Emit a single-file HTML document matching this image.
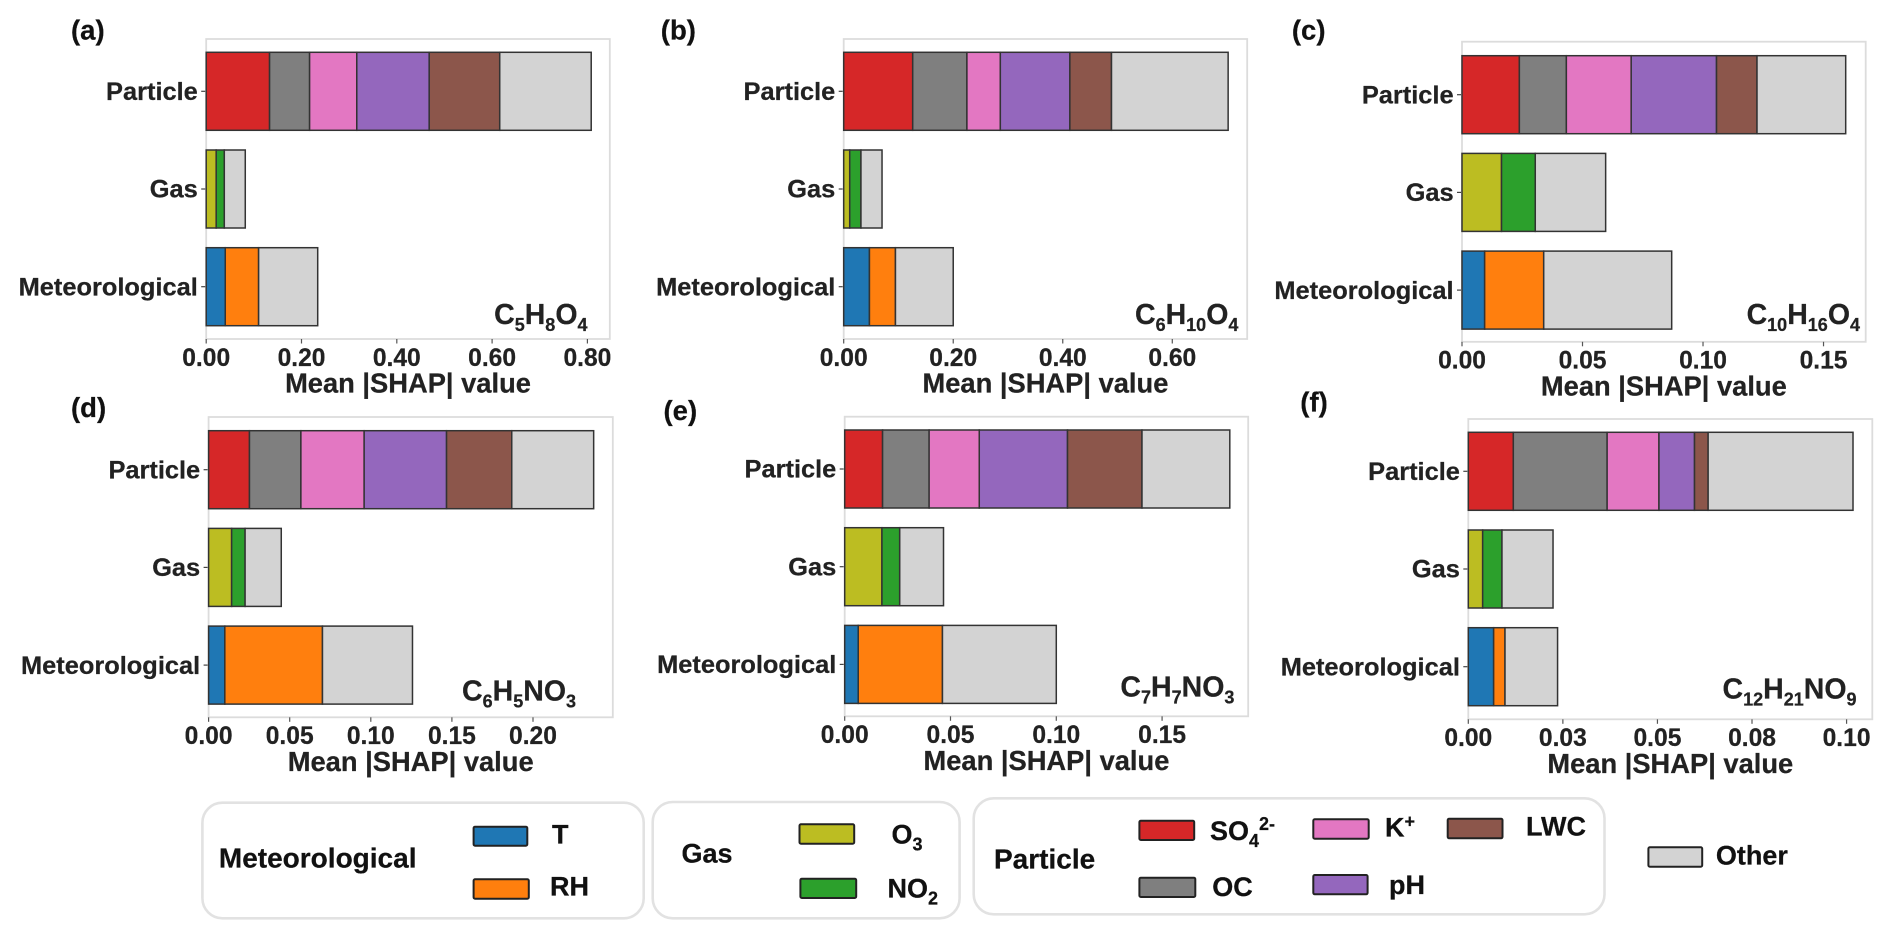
<!DOCTYPE html>
<html lang="en">
<head>
<meta charset="utf-8">
<title>Mean SHAP value by feature group</title>
<style>
html,body{margin:0;padding:0;background:#fff;width:1892px;height:939px;overflow:hidden}
svg{display:block}
text{font-family:"Liberation Sans",Arial,sans-serif;font-weight:bold;fill:#222;stroke:#222;stroke-width:.25}
.legend-text{fill:#111;stroke:#111;font-size:27px}
.box{fill:#fff;stroke:#e2e2e2;stroke-width:2.6}
.swatch{stroke:#222;stroke-width:2}
</style>
</head>
<body>
<svg id="chart" xmlns="http://www.w3.org/2000/svg" width="1892" height="939" viewBox="0 0 1892 939">
  <g id="panels"></g>
  <g>
    <g>
      <rect class="box" x="202.4" y="802.7" width="441.3" height="115.6" rx="20"/>
      <text class="legend-text" x="218.9" y="867.3" font-size="28" style="font-size:28px">Meteorological</text>
      <rect class="swatch" x="473.6" y="826.7" width="53.7" height="19" rx="1.5" fill="#1f77b4"/>
      <text class="legend-text" x="552" y="843.3">T</text>
      <rect class="swatch" x="473.6" y="879.3" width="55.2" height="19.4" rx="1.5" fill="#ff7f0e"/>
      <text class="legend-text" x="550" y="895.3">RH</text>
    </g>
    <g>
      <rect class="box" x="652.7" y="802" width="306.9" height="116.3" rx="20"/>
      <text class="legend-text" x="681.5" y="862.3">Gas</text>
      <rect class="swatch" x="799.5" y="824.3" width="54.7" height="19.4" rx="1.5" fill="#bcbd22"/>
      <text class="legend-text" x="891.5" y="843.3">O<tspan dy="7" style="font-size:18px">3</tspan></text>
      <rect class="swatch" x="800.4" y="878.7" width="55.8" height="19.3" rx="1.5" fill="#2ca02c"/>
      <text class="legend-text" x="887.5" y="897.3">NO<tspan dy="7" style="font-size:18px">2</tspan></text>
    </g>
    <g>
      <rect class="box" x="973.7" y="798.3" width="630.8" height="116" rx="20"/>
      <text class="legend-text" x="994" y="868.3" style="font-size:28px">Particle</text>
      <rect class="swatch" x="1139.4" y="820.7" width="54.8" height="19.3" rx="1.5" fill="#d62728"/>
      <text class="legend-text" x="1210" y="840">SO<tspan dy="7" style="font-size:18px">4</tspan><tspan dy="-17" style="font-size:18px">2-</tspan></text>
      <rect class="swatch" x="1139.4" y="877.7" width="55.9" height="19.3" rx="1.5" fill="#7f7f7f"/>
      <text class="legend-text" x="1212.3" y="896">OC</text>
      <rect class="swatch" x="1313.3" y="819.3" width="55.4" height="19.4" rx="1.5" fill="#e377c2"/>
      <text class="legend-text" x="1385" y="836.7">K<tspan dy="-9" style="font-size:18px">+</tspan></text>
      <rect class="swatch" x="1313.3" y="875" width="54.3" height="19.3" rx="1.5" fill="#9467bd"/>
      <text class="legend-text" x="1389" y="894">pH</text>
      <rect class="swatch" x="1447.7" y="818.7" width="54.8" height="19.6" rx="1.5" fill="#8c564b"/>
      <text class="legend-text" x="1526" y="835.3">LWC</text>
    </g>
    <g>
      <rect class="swatch" x="1648.4" y="847.3" width="53.8" height="19.4" rx="1.5" fill="#d3d3d3"/>
      <text class="legend-text" x="1715.9" y="864.3">Other</text>
    </g>
  </g>
</svg>
<script>
const categories = ['Particle', 'Gas', 'Meteorological'];
const particleFeatures = ['SO4', 'OC', 'K', 'pH', 'LWC', 'Other'];
const gasFeatures = ['O3', 'NO2', 'Other'];
const meteoFeatures = ['T', 'RH', 'Other'];
const axisTitle = 'Mean |SHAP| value';

const particleA = [0.133, 0.084, 0.099, 0.152, 0.148, 0.192];
const gasA = [0.021, 0.017, 0.044];
const meteoA = [0.040, 0.070, 0.124];
const ticksA = [0, 0.2, 0.4, 0.6, 0.8];
const tickLabelsA = ['0.00', '0.20', '0.40', '0.60', '0.80'];

const particleB = [0.126, 0.099, 0.061, 0.127, 0.076, 0.213];
const gasB = [0.011, 0.0205, 0.0385];
const meteoB = [0.047, 0.0475, 0.1055];
const ticksB = [0, 0.2, 0.4, 0.6];
const tickLabelsB = ['0.00', '0.20', '0.40', '0.60'];

const particleC = [0.0238, 0.0195, 0.0269, 0.0354, 0.0168, 0.0368];
const gasC = [0.0164, 0.014, 0.0292];
const meteoC = [0.0094, 0.0245, 0.0531];
const ticksC = [0, 0.05, 0.1, 0.15];
const tickLabelsC = ['0.00', '0.05', '0.10', '0.15'];

const particleD = [0.0252, 0.0317, 0.039, 0.0508, 0.0402, 0.0505];
const gasD = [0.0142, 0.0083, 0.0223];
const meteoD = [0.01, 0.0602, 0.0555];
const ticksD = [0, 0.05, 0.1, 0.15, 0.2];
const tickLabelsD = ['0.00', '0.05', '0.10', '0.15', '0.20'];

const particleE = [0.0179, 0.022, 0.0237, 0.0417, 0.0352, 0.0415];
const gasE = [0.0176, 0.0084, 0.0207];
const meteoE = [0.0064, 0.0398, 0.0538];
const ticksE = [0, 0.05, 0.1, 0.15];
const tickLabelsE = ['0.00', '0.05', '0.10', '0.15'];

const particleF = [0.0119, 0.0248, 0.0137, 0.0094, 0.0036, 0.0383];
const gasF = [0.0038, 0.0051, 0.0135];
const meteoF = [0.0067, 0.003, 0.0139];
const ticksF = [0, 0.025, 0.05, 0.075, 0.1];
const tickLabelsF = ['0.00', '0.03', '0.05', '0.08', '0.10'];

const featureColors = {
  SO4: '#d62728', OC: '#7f7f7f', K: '#e377c2', pH: '#9467bd', LWC: '#8c564b',
  O3: '#bcbd22', NO2: '#2ca02c', T: '#1f77b4', RH: '#ff7f0e', Other: '#d3d3d3'
};

const panels = [
  {id:'a', letterX:71, letterY:39.3, left:206.2, right:609.8, top:39, bottom:339, xMax:0.847, padTop:13.3,
   particle:particleA, gas:gasA, meteo:meteoA, ticks:ticksA, labels:tickLabelsA,
   formula:['C','_5','H','_8','O','_4'], fEnd:587.5, fY:324},
  {id:'b', letterX:660.8, letterY:39.3, left:843.7, right:1247.2, top:39, bottom:339, xMax:0.7368, padTop:13.3,
   particle:particleB, gas:gasB, meteo:meteoB, ticks:ticksB, labels:tickLabelsB,
   formula:['C','_6','H','_10','O','_4'], fEnd:1238.4, fY:324},
  {id:'c', letterX:1291.9, letterY:39.3, left:1462, right:1865.7, top:41.7, bottom:341.8, xMax:0.1675, padTop:14,
   particle:particleC, gas:gasC, meteo:meteoC, ticks:ticksC, labels:tickLabelsC,
   formula:['C','_10','H','_16','O','_4'], fEnd:1860, fY:324},
  {id:'d', letterX:71, letterY:416.8, left:208.6, right:612.8, top:417, bottom:717.3, xMax:0.2492, padTop:13.7,
   particle:particleD, gas:gasD, meteo:meteoD, ticks:ticksD, labels:tickLabelsD,
   formula:['C','_6','H','_5','NO','_3'], fEnd:576, fY:700.7},
  {id:'e', letterX:663.5, letterY:420, left:844.7, right:1248.2, top:416.7, bottom:716.3, xMax:0.1907, padTop:13.3,
   particle:particleE, gas:gasE, meteo:meteoE, ticks:ticksE, labels:tickLabelsE,
   formula:['C','_7','H','_7','NO','_3'], fEnd:1234.4, fY:696.7},
  {id:'f', letterX:1300.3, letterY:411.7, left:1468.3, right:1872.3, top:419, bottom:719.3, xMax:0.1068, padTop:13.3,
   particle:particleF, gas:gasF, meteo:meteoF, ticks:ticksF, labels:tickLabelsF,
   formula:['C','_12','H','_21','NO','_9'], fEnd:1856.5, fY:698.5}
];

const SVG_NS = 'http://www.w3.org/2000/svg';
const BAR_HEIGHT = 78;
const BAR_STEP = 97.7;

function make(tag, parent, attrs, text) {
  const node = document.createElementNS(SVG_NS, tag);
  Object.keys(attrs).forEach(function (k) { node.setAttribute(k, attrs[k]); });
  if (text !== undefined) node.textContent = text;
  parent.appendChild(node);
  return node;
}

function xScale(p, v) {
  return p.left + (v / p.xMax) * (p.right - p.left);
}

function bandTop(p, i) {
  return p.top + p.padTop + i * BAR_STEP;
}

function drawPanel(p, root) {
  const g = make('g', root, {});
  
  

  const letter = make('text', g, {x: p.letterX, y: p.letterY, 'font-size': 27.5, style: 'fill:#111'}, '(' + p.id + ')');
  
  

  const frame = make('rect', g, {x: p.left, y: p.top, width: p.right - p.left, height: p.bottom - p.top, fill: '#fff', stroke: '#dcdcdc', 'stroke-width': 1.8});
  
  

  const series = [
    {name: categories[0], values: p.particle, features: particleFeatures},
    {name: categories[1], values: p.gas, features: gasFeatures},
    {name: categories[2], values: p.meteo, features: meteoFeatures}
  ];

  series.forEach(function (s, i) {
    const top = bandTop(p, i);
    const mid = top + BAR_HEIGHT / 2;
    let cum = 0;
    s.values.forEach(function (v, j) {
      const x0 = xScale(p, cum);
      const x1 = xScale(p, cum + v);
      cum += v;
      const seg = make('rect', g, {x: x0, y: top, width: x1 - x0, height: BAR_HEIGHT, fill: featureColors[s.features[j]], stroke: '#333', 'stroke-width': 1.5});
      
      
    });

    const tick = make('line', g, {x1: p.left - 5, x2: p.left - 1, y1: mid, y2: mid, stroke: '#444', 'stroke-width': 1.2});
    
    

    const lab = make('text', g, {x: p.left - 8.4, y: mid + 8.7, 'text-anchor': 'end', 'font-size': 25.4}, s.name);
    
    
  });

  p.ticks.forEach(function (t, k) {
    const x = xScale(p, t);
    const tick = make('line', g, {x1: x, x2: x, y1: p.bottom, y2: p.bottom + 4.5, stroke: '#555', 'stroke-width': 1.2});
    
    

    const lab = make('text', g, {x: x, y: p.bottom + 26.8, 'text-anchor': 'middle', 'font-size': 24.6}, p.labels[k]);
    
    
  });

  const title = make('text', g, {x: (p.left + p.right) / 2, y: p.bottom + 53.6, 'text-anchor': 'middle', 'font-size': 27.3}, axisTitle);
  
  

  const f = make('text', g, {x: p.fEnd, y: p.fY, 'text-anchor': 'end', 'font-size': 28.5});
  
  
  let lowered = false;
  p.formula.forEach(function (part) {
    const isSub = part.charAt(0) === '_';
    const attrs = {};
    if (isSub) {
      attrs['font-size'] = 18;
      attrs.dy = 7;
    } else if (lowered) {
      attrs.dy = -7;
    }
    make('tspan', f, attrs, isSub ? part.slice(1) : part);
    lowered = isSub;
  });
}

const panelRoot = document.getElementById('panels');
panels.forEach(function (p) { drawPanel(p, panelRoot); });
</script>
</body>
</html>
